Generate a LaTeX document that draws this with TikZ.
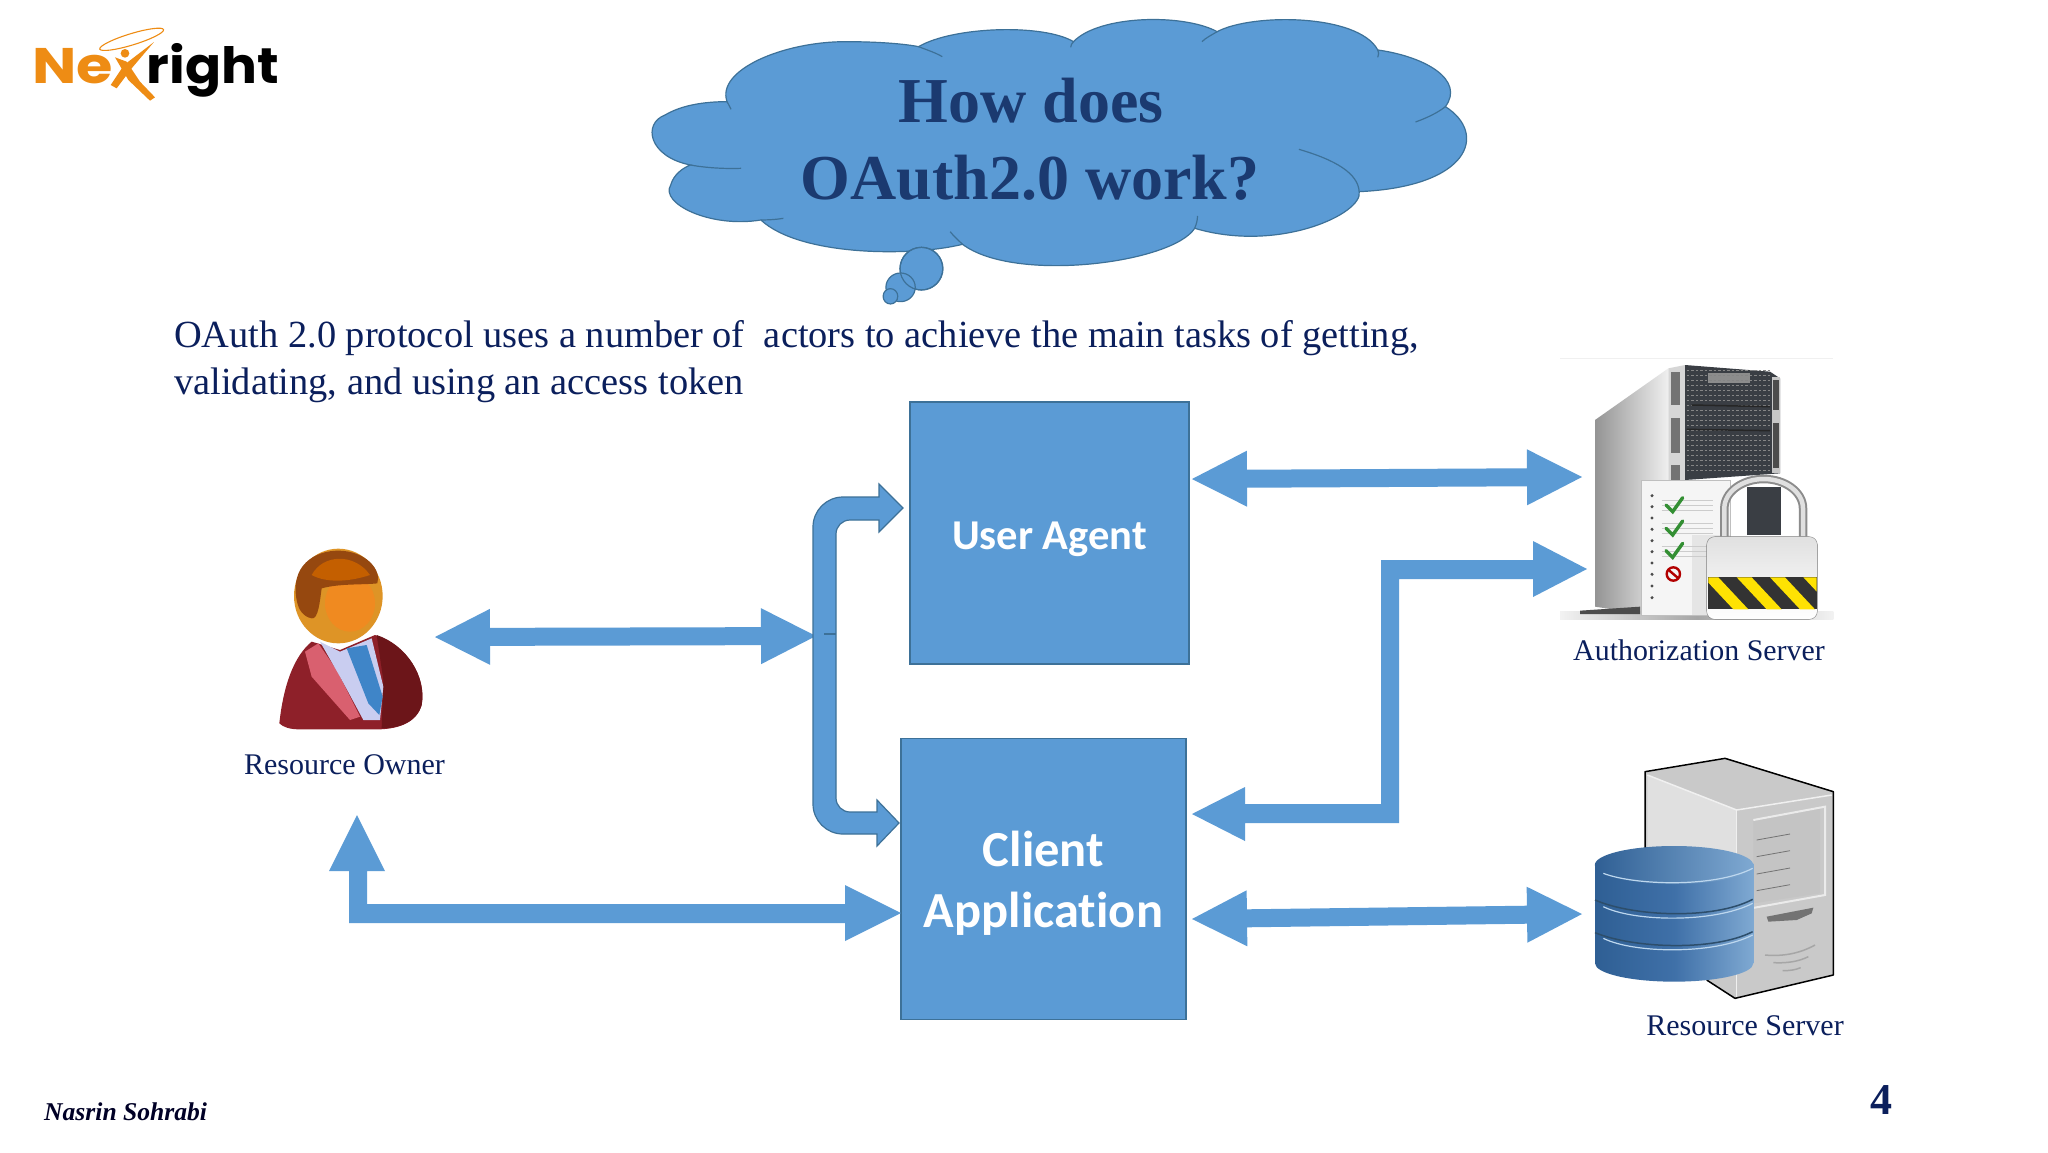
\documentclass[tikz,border=0pt]{standalone}
\usepackage{fontspec}
\setmainfont{Liberation Serif}
\newfontfamily\califont[Ligatures=NoCommon]{Carlito}
\newfontfamily\logofont{Poppins}
\usetikzlibrary{calc}
\definecolor{blk}{HTML}{5B9BD5}
\definecolor{blkline}{HTML}{3D7198}
\definecolor{navy}{HTML}{0B1F5C}
\definecolor{heading}{HTML}{1B3A70}
\definecolor{orng}{HTML}{EE8C14}
\definecolor{towerdark}{HTML}{3A3E44}
\definecolor{cyldark}{HTML}{2F5F94}
\definecolor{cylmid}{HTML}{3F70A8}
\definecolor{cyllight}{HTML}{7FA9D2}
\definecolor{suit}{HTML}{8E2029}
\definecolor{suitdark}{HTML}{6C1519}
\definecolor{lapel}{HTML}{D9606F}
\definecolor{shirt}{HTML}{C9CDF0}
\definecolor{tie}{HTML}{3F85C8}
\definecolor{skin}{HTML}{DE9426}
\definecolor{skinhi}{HTML}{F08A20}
\definecolor{hair}{HTML}{96480F}
\definecolor{hairtop}{HTML}{C45F00}
\tikzset{
  conn/.style={fill=blk},
  box/.style={rectangle,draw=blkline,line width=1.2pt,fill=blk,inner sep=0pt},
  boxtext/.style={inner sep=0pt,text=white,align=center},
  lbl/.style={text=navy,inner sep=0pt,anchor=base},
  cloudline/.style={draw=blkline,line width=1.2pt},
}
\newcommand{\dblblock}[2]{\fill[conn] (#1)
  -- ($(#1)!55pt!(#2)!28pt!90:(#2)$) -- ($(#1)!55pt!(#2)!9pt!90:(#2)$)
  -- ($(#2)!55pt!(#1)!9pt!-90:(#1)$) -- ($(#2)!55pt!(#1)!28pt!-90:(#1)$)
  -- (#2)
  -- ($(#2)!55pt!(#1)!28pt!90:(#1)$) -- ($(#2)!55pt!(#1)!9pt!90:(#1)$)
  -- ($(#1)!55pt!(#2)!9pt!-90:(#2)$) -- ($(#1)!55pt!(#2)!28pt!-90:(#2)$) -- cycle;}
\begin{document}
\begin{tikzpicture}[x=1pt,y=-1pt]
\path[fill=white,use as bounding box] (0,0) rectangle (2048,1152);

% ---------- logo
\begin{scope}[scale=1/3]
\node[inner sep=0pt,anchor=base west,text=orng] (logoNe) at (96,250) {\fontsize{50}{50}\selectfont\logofont\bfseries\scalebox{1.18}[1]{Ne}};
\node[inner sep=0pt,anchor=base west,text=black] (logoright) at (440,250) {\fontsize{50}{50}\selectfont\logofont\bfseries\scalebox{1.065}[1]{right}};
\draw[orng,line width=1.1pt,rotate around={17:(395,118)}] (395,118) ellipse (100 and 17);
\fill[orng] (375,160) circle (13);
\fill[orng] (462,126) -- (395,205) -- (350,265) -- (332,255) -- (372,195) -- cycle;
\fill[orng] (345,172) -- (380,185) -- (420,245) -- (465,292) -- (450,302) -- (385,240) -- cycle;
\end{scope}

% ---------- cloud
\begin{scope}[shift={(620,0)},xscale=0.5634,yscale=0.3333]
\path[fill=blk,cloudline] (190,305)
 .. controls (170,210) and (290,125) .. (400,125)
 .. controls (450,125) and (500,130) .. (530,140)
 .. controls (590,80) and (750,70) .. (805,125)
 .. controls (850,45) and (1000,40) .. (1060,95)
 .. controls (1120,40) and (1310,40) .. (1345,150)
 .. controls (1430,170) and (1500,240) .. (1465,320)
 .. controls (1540,400) and (1510,560) .. (1312,575)
 .. controls (1320,640) and (1170,760) .. (1020,685)
 .. controls (980,790) and (700,850) .. (608,733)
 .. controls (520,770) and (320,770) .. (250,660)
 .. controls (160,685) and (70,610) .. (90,555)
 .. controls (95,525) and (110,505) .. (125,495)
 .. controls (50,470) and (40,370) .. (80,345)
 .. controls (110,315) and (150,305) .. (190,305) -- cycle;
\draw[cloudline] (530,140) .. controls (545,150) and (560,158) .. (572,170);
\draw[cloudline] (805,125) .. controls (802,130) and (800,135) .. (800,142);
\draw[cloudline] (1060,95) .. controls (1050,105) and (1040,113) .. (1033,125);
\draw[cloudline] (1345,150) .. controls (1347,155) and (1347,165) .. (1345,172);
\draw[cloudline] (1465,320) .. controls (1450,340) and (1430,355) .. (1412,366);
\draw[cloudline] (1312,575) .. controls (1310,520) and (1270,480) .. (1205,448);
\draw[cloudline] (1020,685) .. controls (1023,672) and (1025,662) .. (1025,648);
\draw[cloudline] (608,733) .. controls (600,720) and (592,708) .. (586,695);
\draw[cloudline] (250,660) .. controls (265,660) and (280,658) .. (290,655);
\draw[cloudline] (125,495) .. controls (150,503) and (185,507) .. (215,505);
\draw[cloudline] (190,305) .. controls (192,312) and (195,320) .. (197,328);
\path[fill=blk,cloudline] (535,806) ellipse (38 and 64);
\path[fill=blk,cloudline] (498,862) ellipse (26 and 43);
\path[draw=blkline,line width=1.2pt] (535,806) ellipse (38 and 64);
\path[fill=blk,cloudline] (480,889) ellipse (13 and 23);
\end{scope}
\node[lbl,text=heading] (how) at (1031,122) {\fontsize{64}{70}\selectfont\bfseries How does};
\node[lbl,text=heading] (oauth) at (1030,199) {\fontsize{64}{70}\selectfont\bfseries OAuth2.0 work?};

% ---------- paragraph
\node[lbl,anchor=base west] (para1) at (174,347) {\fontsize{38.4}{46}\selectfont OAuth 2.0 protocol uses a number of\ \ actors to achieve the main tasks of getting,};
\node[lbl,anchor=base west] (para2) at (174,394) {\fontsize{38.4}{46}\selectfont validating, and using an access token};

% ---------- boxes
\node[box,minimum width=279pt,minimum height=262pt] (agent) at (1049.5,533) {};
\node[boxtext,font=\califont\bfseries\fontsize{42.5}{50}\selectfont] (agentText) at ([yshift=-6pt]agent.center) {User Agent};
\node[box,minimum width=285pt,minimum height=281pt] (client) at (1043.5,879) {};
\node[boxtext,font=\califont\bfseries\fontsize{50.5}{61}\selectfont] (clientText) at ([yshift=-4pt]client.center) {Client\\Application};

% ---------- resource owner
\begin{scope}[shift={(240,520)},scale=1/3]
\fill[suit] (118,610) .. controls (130,500) and (160,410) .. (215,365) -- (300,390) -- (405,345)
   .. controls (500,375) and (560,470) .. (545,555) .. controls (530,610) and (470,630) .. (400,628)
   -- (180,628) .. controls (150,628) and (130,622) .. (118,610) -- cycle;
\fill[suitdark] (410,345) .. controls (500,375) and (560,470) .. (545,555) .. controls (530,605) and (480,625) .. (425,625) -- (430,480) -- cycle;
\fill[lapel] (195,395) -- (235,370) -- (290,450) -- (360,590) -- (330,600) -- (215,470) -- cycle;
\fill[shirt] (240,365) -- (300,395) -- (395,355) -- (430,500) -- (420,600) -- (370,600) -- (300,470) -- cycle;
\fill[tie] (320,385) -- (380,375) -- (428,530) -- (418,585) -- (385,550) -- cycle;
\fill[skin] (295,228) ellipse (133 and 142);
\fill[skinhi] (330,250) ellipse (75 and 85);
\fill[hair] (170,240) .. controls (150,140) and (220,90) .. (300,92) .. controls (380,95) and (425,150) .. (412,190) .. controls (370,195) and (300,190) .. (245,205) .. controls (240,240) and (235,300) .. (215,295) .. controls (190,290) and (175,270) .. (170,240) -- cycle;
\fill[hairtop] (215,165) .. controls (250,100) and (345,100) .. (390,165) .. controls (330,185) and (260,190) .. (215,165) -- cycle;
\end{scope}
\node[lbl] (owner) at (344.5,774) {\fontsize{30}{36}\selectfont Resource Owner};

% ---------- authorization server
\begin{scope}[shift={(1540,340)},scale=1/3]
\draw[black!6,line width=.8pt] (60,55) -- (880,55);
\shade[left color=black!42,right color=black!6] (165,240) -- (385,85) -- (385,420) -- (310,420) -- (310,822) -- (165,800) -- cycle;
\fill[black!16] (385,85) -- (435,75) -- (435,420) -- (385,420) -- cycle;
\fill[black!55] (394,95) rectangle (420,195);
\fill[black!55] (394,235) rectangle (420,340);
\fill[black!55] (394,375) rectangle (420,420);
\fill[towerdark] (435,75) -- (690,95) -- (720,115) -- (720,400) -- (435,420) -- cycle;
\fill[black!22] (695,110) rectangle (720,400);
\fill[black!70] (700,120) rectangle (716,210);
\fill[black!70] (700,250) rectangle (716,385);
\fill[black!45] (505,100) rectangle (630,130);
\foreach \yy in {90,105,...,400}{
  \draw[black!48,line width=.9pt,dash pattern=on 2.5pt off 2pt] (440,\yy) -- (692,\yy);}
\draw[black!85,line width=1.5pt] (455,195) -- (690,200);
\draw[black!85,line width=1.5pt] (440,268) -- (690,272);
\shade[left color=black!5,right color=black!5,middle color=black!35] (60,815) rectangle (880,838);
\fill[black!70] (120,812) -- (300,800) -- (300,822) -- (120,822) -- cycle;
\fill[black!4,draw=black!25] (305,420) rectangle (570,825);
\fill[black!10] (455,585) rectangle (570,825);
\foreach \yy in {467,500,534,568,602,635,669,703,738,773}{
  \fill[black!70] (336,\yy) circle (5);}
\foreach \yy in {480,495,510,550,565,580,620,635,650}{
  \draw[black!20,line width=.5pt] (365,\yy) -- (520,\yy);}
\foreach \yy in {495,565,632}{
  \draw[green!45!black!80!white,line width=3.4pt,line cap=round] (378,\yy) -- (398,\yy+20) -- (428,\yy-22);}
\draw[red!70!black,line width=2.4pt] (400,702) circle (20);
\draw[red!70!black,line width=2.4pt] (386,690) -- (414,714);
\fill[towerdark] (622,440) rectangle (722,585);
\draw[black!45,line width=8.5pt] (553,590) -- (553,505)
  arc[start angle=180,end angle=360,x radius=118,y radius=88] -- (789,590);
\draw[black!12,line width=4.5pt] (553,590) -- (553,505)
  arc[start angle=180,end angle=360,x radius=118,y radius=88] -- (789,590);
\shade[top color=black!12,bottom color=white,rounded corners=8,draw=black!50] (500,590) rectangle (832,838);
\fill[black!80] (505,712) rectangle (830,808);
\begin{scope}
\clip (505,712) rectangle (830,808);
\foreach \xx in {490,590,690,790}{
  \fill[yellow!85!orange] (\xx,712) -- (\xx+45,712) -- (\xx+135,808) -- (\xx+90,808) -- cycle;}
\end{scope}
\end{scope}
\node[lbl] (authsrv) at (1699,660) {\fontsize{29.9}{36}\selectfont Authorization Server};

% ---------- resource server
\begin{scope}[shift={(1560,740)},scale=1/3]
\fill[black!21] (255,95) -- (495,55) -- (820,155) -- (820,705) -- (525,775) -- (440,720) -- (255,600) -- cycle;
\fill[black!12] (262,105) -- (530,210) -- (530,500) -- (262,500) -- cycle;
\fill[black!23] (580,240) -- (780,205) -- (780,460) -- (580,490) -- cycle;
\draw[black!8,line width=2pt] (580,240) -- (795,200) -- (795,465) -- (545,510);
\draw[black!6,line width=1.5pt] (262,105) -- (530,210) -- (815,165);
\draw[black!6,line width=1.5pt] (530,210) -- (530,770);
\foreach \ya/\yb in {300/282,350/332,402/384,452/434}{
  \draw[black!55,line width=.8pt] (590,\ya) -- (690,\yb);}
\fill[black!55] (620,530) -- (760,503) -- (755,520) -- (710,540) -- (625,545) -- cycle;
\draw[black!35,line width=1.5pt] (615,645) .. controls (670,650) and (720,640) .. (765,615);
\draw[black!35,line width=1.5pt] (640,668) .. controls (680,670) and (715,665) .. (745,650);
\draw[black!35,line width=1.5pt] (668,692) .. controls (690,692) and (705,690) .. (722,683);
\draw[black,line width=1.5pt,line join=round] (255,330) -- (255,95) -- (495,55) -- (820,155) -- (820,705) -- (525,775) -- (440,720);
\shade[left color=cyldark,right color=cyllight,middle color=cylmid]
  (105,370) -- (105,670) arc[start angle=180,end angle=0,x radius=237.5,y radius=55] -- (580,370) -- cycle;
\shade[left color=cyldark,right color=cyllight] (342,375) ellipse (237.5 and 57);
\draw[white!60!blk,line width=1.2pt] (130,400) .. controls (220,435) and (460,445) .. (578,385);
\draw[white!60!blk,line width=1.2pt] (130,500) .. controls (220,545) and (460,550) .. (578,490);
\draw[white!60!blk,line width=1.2pt] (130,595) .. controls (220,640) and (460,645) .. (578,585);
\draw[blk!50!black,line width=1.5pt] (105,480) .. controls (220,530) and (460,540) .. (578,478);
\draw[blk!50!black,line width=1.5pt] (105,578) .. controls (220,625) and (460,635) .. (578,575);
\end{scope}
\node[lbl] (ressrv) at (1745,1035) {\fontsize{30}{36}\selectfont Resource Server};

% ---------- connectors
\coordinate (ownerEnd) at (435,637);
\coordinate (busEnd) at (816,636);
\dblblock{ownerEnd}{busEnd}
\coordinate (agentEnd) at (1192,479);
\coordinate (authEnd) at (1582,477);
\dblblock{agentEnd}{authEnd}
\coordinate (clientEnd) at (1192,919);
\coordinate (resEnd) at (1582,914);
\dblblock{clientEnd}{resEnd}

% bracket arrow between agent and client
\path[fill=blk,draw=blkline,line width=1.2pt] (903,508) -- (879,484) -- (879,497) -- (843,497)
  arc[start angle=-90,end angle=-180,radius=30] -- (813,804)
  arc[start angle=180,end angle=90,radius=30] -- (877,834) -- (877,846) -- (899,823) -- (877,800) -- (877,812) -- (850,812)
  arc[start angle=90,end angle=180,radius=14] -- (836,534)
  arc[start angle=180,end angle=270,radius=14] -- (879,520) -- (879,532) -- cycle;
\draw[blkline,line width=1.2pt] (824,634) -- (836,634);

% elbow arrow client -- authorization server
\fill[conn] (1192,814) -- (1245,787) -- (1245,804) -- (1381,804) -- (1381,560) -- (1533,560) -- (1533,541)
  -- (1587,569) -- (1533,597) -- (1533,579) -- (1399,579) -- (1399,823) -- (1245,823) -- (1245,841) -- cycle;

% L arrow client -- resource owner
\fill[conn] (901,913) -- (845,885) -- (845,904) -- (367,904) -- (367,871) -- (385,871) -- (357,815) -- (329,871) -- (349,871)
  -- (349,923) -- (845,923) -- (845,941) -- cycle;

% ---------- footer
\node[lbl,anchor=base west,text=black!85!blue] (author) at (44,1120) {\fontsize{25.6}{32}\selectfont\bfseries\itshape Nasrin Sohrabi};
\node[lbl,text=navy] (pagenum) at (1881,1114) {\fontsize{44}{50}\selectfont\bfseries 4};
\end{tikzpicture}
\end{document}
